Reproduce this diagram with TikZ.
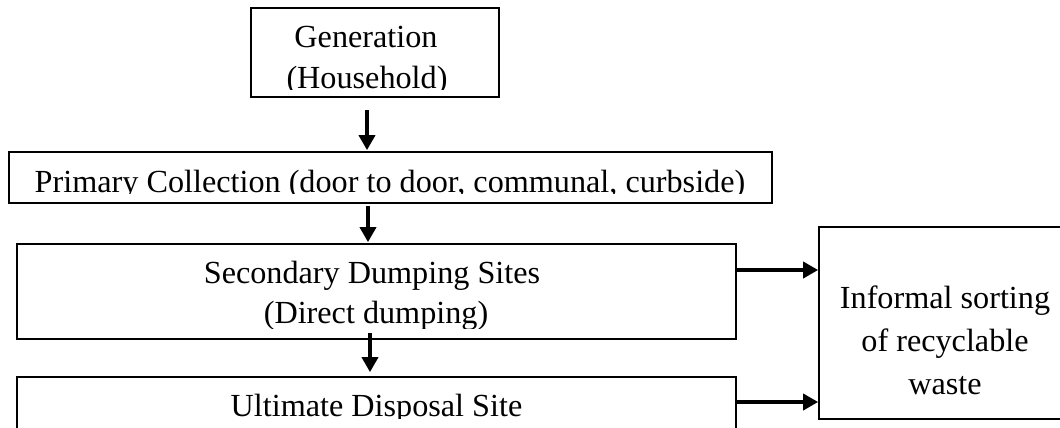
\documentclass[tikz,border=0pt]{standalone}
\usepackage{fontspec}
\setmainfont{Liberation Serif}
\usetikzlibrary{arrows.meta}
\tikzset{
  box/.style={draw, line width=0.85pt, inner sep=0pt},
  lbl/.style={font=\fontsize{16.1pt}{20pt}\selectfont, inner sep=0pt, anchor=base},
  flow/.style={line width=1.8pt, -{Triangle[length=7.5pt,width=8pt]}},
}
\begin{document}
\begin{tikzpicture}[x=0.5pt,y=-0.5pt]
\useasboundingbox (0,0) rectangle (1060,428);
\fill[white] (0,0) rectangle (1060,428);
\clip (0,0) rectangle (1060,428);

% boxes
\node[box, minimum width=124pt,   minimum height=44.5pt] (gen)  at (375,52.5)   {};
\node[box, minimum width=381.5pt, minimum height=25.5pt] (prim) at (390.5,177.5) {};
\node[box, minimum width=359.5pt, minimum height=47.5pt] (sec)  at (376.5,291.5) {};
\node[box, minimum width=359.5pt, minimum height=46.5pt] (ult)  at (376.5,423.5) {};
\node[box, minimum width=126pt,   minimum height=96pt]   (inf)  at (945,323)     {};

% labels, each cut off at the bottom of its text area
\begin{scope}
  \clip (251,8) rectangle (499,89);
  \node[lbl] (gen1) at (366,47) {Generation};
  \node[lbl] (gen2) at (367,88) {(Household)};
\end{scope}
\begin{scope}
  \clip (9,152) rectangle (772,193);
  \node[lbl] (prim1) at (390,192) {Primary Collection (door to door, communal, curbside)};
\end{scope}
\begin{scope}
  \clip (17,244) rectangle (736,328);
  \node[lbl] (sec1) at (372,283) {Secondary Dumping Sites};
  \node[lbl] (sec2) at (376,323) {(Direct dumping)};
\end{scope}
\begin{scope}
  \clip (17,377) rectangle (736,418);
  \node[lbl] (ult1) at (376.5,416) {Ultimate Disposal Site};
\end{scope}
\node[lbl] (inf1) at (945,308) {Informal sorting};
\node[lbl] (inf2) at (945,351) {of recyclable};
\node[lbl] (inf3) at (945,394) {waste};

% flow arrows
\draw[flow] ([xshift=-4pt,yshift=-6pt]gen.south) -- ([xshift=-11.75pt,yshift=0.5pt]prim.north);
\draw[flow] ([xshift=-11.25pt,yshift=-1pt]prim.south) -- ([xshift=-4.25pt,yshift=0.5pt]sec.north);
\draw[flow] ([xshift=-3.25pt,yshift=3.5pt]sec.south) -- ([xshift=-3.25pt,yshift=2pt]ult.north);
\draw[flow] ([yshift=10.75pt]sec.east) -- ([yshift=10.75pt]sec.east -| inf.west);
\draw[flow] ([yshift=10.75pt]ult.east) -- ([yshift=10.75pt]ult.east -| inf.west);
\end{tikzpicture}
\end{document}
